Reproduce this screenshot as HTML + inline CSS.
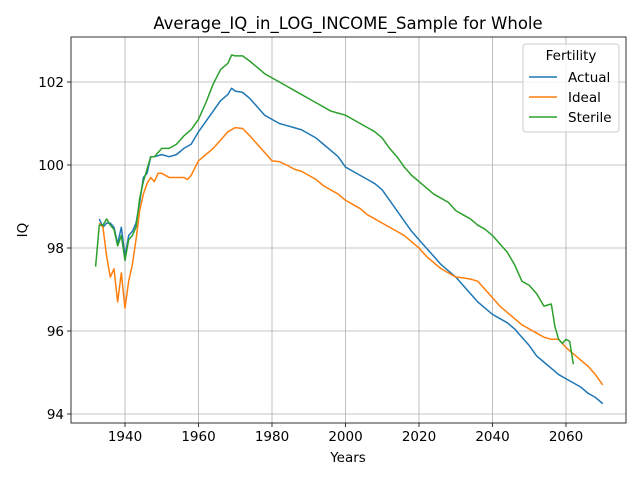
<!DOCTYPE html>
<html><head><meta charset="utf-8"><style>
body{margin:0;background:#fff;font-family:"Liberation Sans","DejaVu Sans",sans-serif}
svg text{font-family:"DejaVu Sans","Liberation Sans",sans-serif}
</style></head><body>
<svg id="chart" width="640" height="480" xmlns="http://www.w3.org/2000/svg"></svg>
<script>
const xTicks=[1940,1960,1980,2000,2020,2040,2060];
const yTicks=[94,96,98,100,102];
const actualYears=[1933,1934,1935,1936,1937,1938,1939,1940,1941,1942,1943,1944,1945,1946,1947,1948,1950,1952,1954,1956,1958,1960,1962,1964,1966,1968,1969,1970,1972,1974,1976,1978,1980,1982,1984,1986,1988,1990,1992,1994,1996,1998,2000,2002,2004,2006,2008,2010,2012,2014,2016,2018,2020,2022,2024,2026,2028,2030,2032,2034,2036,2038,2040,2042,2044,2046,2048,2050,2052,2054,2056,2058,2060,2062,2064,2066,2068,2070];
const actualValues=[98.7,98.5,98.6,98.6,98.5,98.1,98.5,97.8,98.3,98.4,98.6,99.1,99.7,99.8,100.2,100.2,100.25,100.2,100.25,100.4,100.5,100.8,101.05,101.3,101.55,101.7,101.85,101.78,101.75,101.6,101.4,101.2,101.1,101.0,100.95,100.9,100.85,100.75,100.65,100.5,100.35,100.2,99.95,99.85,99.75,99.65,99.55,99.4,99.15,98.9,98.65,98.4,98.2,98.0,97.8,97.6,97.45,97.3,97.1,96.9,96.7,96.55,96.4,96.3,96.2,96.05,95.85,95.65,95.4,95.25,95.1,94.95,94.85,94.75,94.65,94.5,94.4,94.25];
const idealYears=[1933,1934,1935,1936,1937,1938,1939,1940,1941,1942,1943,1944,1945,1946,1947,1948,1949,1950,1952,1954,1956,1957,1958,1960,1962,1964,1966,1968,1970,1972,1974,1976,1978,1980,1982,1984,1986,1988,1990,1992,1994,1996,1998,2000,2002,2004,2006,2008,2010,2012,2014,2016,2018,2020,2022,2024,2026,2028,2030,2032,2034,2036,2038,2040,2042,2044,2046,2048,2050,2052,2054,2056,2058,2060,2062,2064,2066,2068,2070];
const idealValues=[98.6,98.5,97.8,97.3,97.5,96.7,97.4,96.55,97.2,97.6,98.2,98.9,99.3,99.55,99.7,99.6,99.8,99.8,99.7,99.7,99.7,99.65,99.75,100.1,100.25,100.4,100.6,100.8,100.9,100.88,100.7,100.5,100.3,100.1,100.08,100.0,99.9,99.85,99.75,99.65,99.5,99.4,99.3,99.15,99.05,98.95,98.8,98.7,98.6,98.5,98.4,98.3,98.15,98.0,97.8,97.65,97.5,97.4,97.3,97.28,97.25,97.2,97.0,96.8,96.6,96.45,96.3,96.15,96.05,95.95,95.85,95.8,95.8,95.6,95.45,95.3,95.15,94.95,94.7];
const sterileYears=[1932,1933,1934,1935,1936,1937,1938,1939,1940,1941,1942,1943,1944,1945,1946,1947,1948,1950,1952,1954,1956,1958,1960,1962,1964,1966,1968,1969,1970,1972,1974,1976,1978,1980,1982,1984,1986,1988,1990,1992,1994,1996,1998,2000,2002,2004,2006,2008,2010,2012,2014,2016,2018,2020,2022,2024,2026,2028,2030,2032,2034,2036,2038,2040,2042,2044,2046,2048,2050,2052,2054,2056,2057,2058,2059,2060,2061,2062];
const sterileValues=[97.55,98.55,98.55,98.7,98.55,98.45,98.05,98.3,97.7,98.2,98.3,98.5,99.2,99.6,99.9,100.2,100.2,100.4,100.4,100.5,100.7,100.85,101.1,101.5,101.95,102.3,102.45,102.65,102.63,102.63,102.5,102.35,102.2,102.1,102.0,101.9,101.8,101.7,101.6,101.5,101.4,101.3,101.25,101.2,101.1,101.0,100.9,100.8,100.65,100.4,100.2,99.95,99.75,99.6,99.45,99.3,99.2,99.1,98.9,98.8,98.7,98.55,98.45,98.3,98.1,97.9,97.6,97.2,97.1,96.9,96.6,96.65,96.1,95.8,95.7,95.8,95.75,95.2];

const L=71,R=626,T=37,B=423;
const xs=y=>125+(y-1940)*3.675;
const ys=v=>414-(v-94)*41.5;
const svg=document.getElementById('chart');
const NS='http://www.w3.org/2000/svg';
function mk(tag,attrs,parent){const e=document.createElementNS(NS,tag);for(const k in attrs)e.setAttribute(k,attrs[k]);(parent||svg).appendChild(e);return e;}
const grid=mk('g',{});


xTicks.forEach(t=>{
  mk('line',{x1:xs(t),x2:xs(t),y1:T,y2:B,stroke:'#b0b0b0','stroke-width':0.8},grid);
  mk('line',{x1:xs(t),x2:xs(t),y1:B,y2:B+4,stroke:'#000','stroke-width':0.8});
  const tx=mk('text',{x:xs(t),y:B+18,'text-anchor':'middle','font-size':13.5});
  tx.textContent=t;
  
  
});
yTicks.forEach(t=>{
  mk('line',{x1:L,x2:R,y1:ys(t),y2:ys(t),stroke:'#b0b0b0','stroke-width':0.8},grid);
  mk('line',{x1:L-4,x2:L,y1:ys(t),y2:ys(t),stroke:'#000','stroke-width':0.8});
  const tx=mk('text',{x:L-7,y:ys(t)+5,'text-anchor':'end','font-size':13.5});
  tx.textContent=t;
  
  
});
function series(yrs,vals,color,name){
  const p=mk('polyline',{points:yrs.map((y,i)=>xs(y)+','+ys(vals[i])).join(' '),fill:'none',stroke:color,'stroke-width':1.5,'stroke-linejoin':'round'});
  
  
}
series(actualYears,actualValues,'#1f77b4','actual-line');
series(idealYears,idealValues,'#ff7f0e','ideal-line');
series(sterileYears,sterileValues,'#2ca02c','sterile-line');
const frame=mk('rect',{x:L,y:T,width:R-L,height:B-T,fill:'none',stroke:'#000','stroke-width':0.8});


const title=mk('text',{x:348,y:29,'text-anchor':'middle','font-size':16.5});
title.textContent='Average_IQ_in_LOG_INCOME_Sample for Whole';


const xl=mk('text',{x:348,y:462,'text-anchor':'middle','font-size':13.5});
xl.textContent='Years';


const yl=mk('text',{x:27,y:230,'text-anchor':'middle','font-size':13.5,transform:'rotate(-90 27 230)'});
yl.textContent='IQ';


const lg=mk('g',{});


mk('rect',{x:523,y:44,width:96,height:88,rx:3,fill:'#fff','fill-opacity':0.8,stroke:'#ccc'},lg);
const lt=mk('text',{x:571,y:60,'text-anchor':'middle','font-size':13.5},lg);lt.textContent='Fertility';
[['Actual','#1f77b4'],['Ideal','#ff7f0e'],['Sterile','#2ca02c']].forEach((d,i)=>{
  const y=77+i*20;
  const ln=mk('line',{x1:529,x2:557,y1:y,y2:y,stroke:d[1],'stroke-width':1.5},lg);
  
  
  const t=mk('text',{x:568,y:y+5,'font-size':13.5},lg);t.textContent=d[0];
  
  
});
</script>
</body></html>
